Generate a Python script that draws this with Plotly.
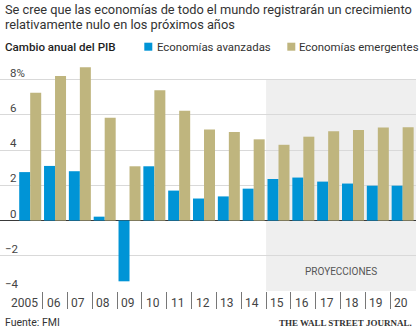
import plotly.graph_objects as go

# Annual GDP change (%), IMF; 2015 onward are projections
years = list(range(2005, 2021))
year_labels = ["2005", "06", "07", "08", "09", "10", "11", "12",
               "13", "14", "15", "16", "17", "18", "19", "20"]
advanced = [2.75, 3.1, 2.8, 0.22, -3.45, 3.08, 1.7, 1.25,
            1.37, 1.81, 2.36, 2.44, 2.21, 2.1, 1.98, 1.98]
emerging = [7.25, 8.2, 8.7, 5.83, 3.08, 7.4, 6.23, 5.17,
            5.03, 4.61, 4.3, 4.76, 5.07, 5.14, 5.28, 5.3]
projection_start = 2015
y_ticks = [8, 6, 4, 2, 0, -2, -4]
y_tick_text = ["8%", "6", "4", "2", "0", "\u22122", "\u22124"]

BLUE = "#0094d6"
TAN = "#bfb57e"
TEXT = "#333333"
FONT = "Roboto"

W, H = 420, 334
L, R, T, B = 0, 4, 62, 43
PW, PH = W - L - R, H - T - B
px_per_year = 24.83
x0 = years[0] - 30.2 / px_per_year
x1 = x0 + PW / px_per_year


def xp(px):
    return (px - L) / PW


def yp(py):
    return (H - B - py) / PH


fig = go.Figure()
fig.add_bar(x=years, y=advanced, name="Economías avanzadas",
            marker=dict(color=BLUE, line=dict(width=0)))
fig.add_bar(x=years, y=emerging, name="Economías emergentes",
            marker=dict(color=TAN, line=dict(width=0)))

shapes = [
    # shaded projection band
    dict(type="rect", xref="x", yref="y", x0=projection_start - 0.5, x1=x1,
         y0=-4, y1=8, fillcolor="#efefef", line=dict(width=0), layer="below"),
    # legend swatches
    dict(type="rect", xref="paper", yref="paper", x0=xp(144.3), x1=xp(152.3),
         y0=yp(50.7), y1=yp(42.7), fillcolor=BLUE, line=dict(width=0)),
    dict(type="rect", xref="paper", yref="paper", x0=xp(287.3), x1=xp(295.3),
         y0=yp(50.7), y1=yp(42.7), fillcolor=TAN, line=dict(width=0)),
]

annotations = [
    dict(text="Se cree que las economías de todo el mundo registrarán un crecimiento",
         x=xp(3), y=yp(9), xanchor="left", yanchor="middle",
         font=dict(size=12.8, color=TEXT)),
    dict(text="relativamente nulo en los próximos años",
         x=xp(3), y=yp(24), xanchor="left", yanchor="middle",
         font=dict(size=12.8, color=TEXT)),
    dict(text="Cambio anual del PIB", x=xp(3), y=yp(46.5),
         xanchor="left", yanchor="middle",
         font=dict(size=11.6, color="#1e1e1e", weight=500)),
    dict(text="Economías avanzadas", x=xp(154.5), y=yp(46.5),
         xanchor="left", yanchor="middle", font=dict(size=11.4, color=TEXT)),
    dict(text="Economías emergentes", x=xp(296.5), y=yp(46.5),
         xanchor="left", yanchor="middle", font=dict(size=11.4, color=TEXT)),
    dict(text="PROYECCIONES", xref="x", yref="y",
         x=(projection_start - 0.5 + x1) / 2, y=-2.9,
         xanchor="center", yanchor="middle", font=dict(size=10, color="#555555")),
    dict(text="Fuente: FMI", x=xp(3), y=yp(322), xanchor="left", yanchor="middle",
         font=dict(size=10.5, color=TEXT)),
    dict(text="THE WALL STREET JOURNAL.", x=xp(414), y=yp(322.5),
         xanchor="right", yanchor="middle",
         font=dict(family="Liberation Serif", size=9, color="#333333", weight="bold")),
]

# y tick labels sit just above their gridlines
for v, t in zip(y_ticks, y_tick_text):
    annotations.append(dict(text=t, xref="paper", yref="y", x=xp(8), y=v,
                            xanchor="left", yanchor="middle", yshift=7,
                            xshift=-5 if t.startswith("\u2212") else 0,
                            font=dict(size=11.5, color="#444444")))

# year labels beside the boundary ticks
for yr, lab in zip(years, year_labels):
    if yr == years[0]:
        annotations.append(dict(text=lab, xref="x", yref="paper", x=yr + 0.5,
                                y=yp(302.5), xanchor="right", yanchor="middle",
                                xshift=-3, font=dict(size=12, color="#444444")))
    else:
        annotations.append(dict(text=lab, xref="x", yref="paper", x=yr - 0.5,
                                y=yp(302.5), xanchor="left", yanchor="middle",
                                xshift=2, font=dict(size=12, color="#444444")))

for a in annotations:
    a.setdefault("xref", "paper")
    a.setdefault("yref", "paper")
    a["showarrow"] = False

fig.update_layout(
    width=W, height=H,
    margin=dict(l=L, r=R, t=T, b=B, pad=0),
    paper_bgcolor="white", plot_bgcolor="white",
    barmode="group", bargap=0.114, bargroupgap=0,
    showlegend=False,
    font=dict(family=FONT, color=TEXT),
    shapes=shapes, annotations=annotations,
    xaxis=dict(range=[x0, x1], tickmode="array",
               tickvals=[y - 0.5 for y in years[1:]],
               showticklabels=False, ticks="outside", ticklen=17,
               tickcolor="#777777", tickwidth=1,
               showgrid=False, zeroline=False, showline=False, fixedrange=True),
    yaxis=dict(range=[-4, 9], tickmode="array", tickvals=[v for v in y_ticks if v != 0],
               showticklabels=False, showgrid=True, gridcolor="#d9d9d9", gridwidth=1,
               zeroline=True, zerolinecolor="#3a3a3a", zerolinewidth=1,
               showline=False, ticks="", fixedrange=True),
)

fig.write_html("out.html", config={"displayModeBar": False})
